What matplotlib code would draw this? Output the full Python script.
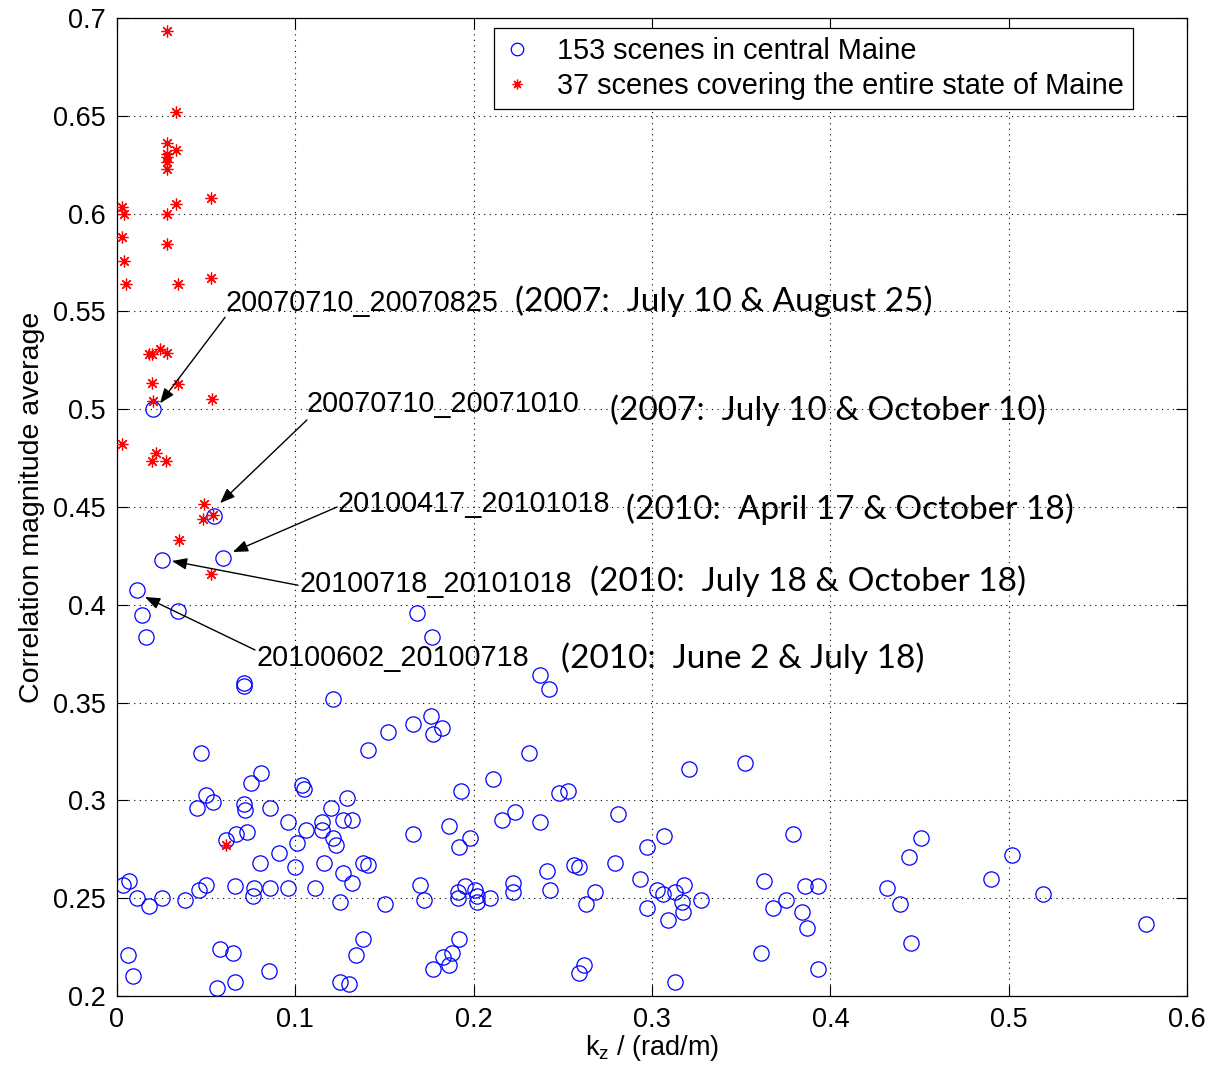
import matplotlib
matplotlib.use("Agg")
import matplotlib.pyplot as plt
from matplotlib.lines import Line2D

# 153 interferometric pairs in central Maine: vertical wavenumber vs. mean coherence
central_kz = [
    0.020, 0.0544, 0.0594, 0.025, 0.011, 0.014, 0.034, 0.016, 0.168, 0.1765,
    0.071, 0.0713, 0.121, 0.152, 0.141, 0.047, 0.081, 0.075, 0.104, 0.105,
    0.050, 0.129, 0.045, 0.054, 0.071, 0.072, 0.086, 0.120, 0.096, 0.106,
    0.115, 0.115, 0.127, 0.132, 0.121, 0.123, 0.073, 0.067, 0.061, 0.101,
    0.091, 0.080, 0.100, 0.116, 0.138, 0.141, 0.127, 0.132, 0.0067, 0.0034,
    0.050, 0.046, 0.066, 0.077, 0.076, 0.086, 0.096, 0.111, 0.011, 0.018,
    0.025, 0.038, 0.125, 0.150, 0.138, 0.134, 0.006, 0.009, 0.058, 0.065,
    0.085, 0.056, 0.066, 0.125, 0.130,
    0.237, 0.242, 0.166, 0.176, 0.182, 0.177, 0.231, 0.211, 0.193, 0.248,
    0.253, 0.223, 0.216, 0.237, 0.281, 0.166, 0.186, 0.198, 0.192, 0.307,
    0.297, 0.241, 0.256, 0.259, 0.279, 0.293, 0.170, 0.222, 0.243, 0.268,
    0.303, 0.306, 0.313, 0.191, 0.195, 0.191, 0.201, 0.202, 0.202, 0.209,
    0.222, 0.172, 0.263, 0.297, 0.309, 0.192, 0.188, 0.183, 0.186, 0.177,
    0.262, 0.259, 0.313,
    0.321, 0.352, 0.379, 0.363, 0.318, 0.317, 0.3275, 0.3175, 0.386, 0.393,
    0.375, 0.368, 0.384, 0.387, 0.361, 0.393, 0.451, 0.444, 0.432, 0.439,
    0.445, 0.502, 0.490, 0.519, 0.577,
]
central_coh = [
    0.500, 0.4456, 0.424, 0.423, 0.4077, 0.395, 0.3966, 0.3835, 0.396, 0.3834,
    0.360, 0.3585, 0.352, 0.335, 0.326, 0.324, 0.314, 0.309, 0.308, 0.306,
    0.303, 0.301, 0.296, 0.299, 0.298, 0.295, 0.296, 0.296, 0.289, 0.285,
    0.289, 0.285, 0.290, 0.290, 0.281, 0.277, 0.284, 0.283, 0.280, 0.278,
    0.273, 0.268, 0.266, 0.268, 0.268, 0.267, 0.263, 0.258, 0.259, 0.257,
    0.257, 0.254, 0.256, 0.255, 0.251, 0.255, 0.255, 0.255, 0.250, 0.246,
    0.250, 0.249, 0.248, 0.247, 0.229, 0.221, 0.221, 0.210, 0.224, 0.222,
    0.213, 0.204, 0.207, 0.207, 0.206,
    0.364, 0.357, 0.339, 0.343, 0.337, 0.334, 0.324, 0.311, 0.305, 0.304,
    0.305, 0.294, 0.290, 0.289, 0.293, 0.283, 0.287, 0.281, 0.276, 0.282,
    0.276, 0.264, 0.267, 0.266, 0.268, 0.260, 0.257, 0.258, 0.254, 0.253,
    0.254, 0.252, 0.253, 0.253, 0.256, 0.250, 0.254, 0.251, 0.248, 0.250,
    0.253, 0.249, 0.247, 0.245, 0.239, 0.229, 0.222, 0.220, 0.216, 0.214,
    0.216, 0.212, 0.207,
    0.316, 0.319, 0.283, 0.259, 0.257, 0.248, 0.249, 0.243, 0.256, 0.256,
    0.249, 0.245, 0.243, 0.235, 0.222, 0.214, 0.281, 0.271, 0.255, 0.247,
    0.227, 0.272, 0.260, 0.252, 0.237,
]

# 37 pairs covering the entire state
state_kz = [
    0.028, 0.033, 0.028, 0.033, 0.028, 0.028, 0.028, 0.028, 0.033,
    0.0527, 0.003, 0.004, 0.028, 0.003, 0.028, 0.004, 0.005, 0.034, 0.0527,
    0.018, 0.0195, 0.024, 0.028, 0.0195, 0.034, 0.020, 0.053, 0.0026, 0.0217,
    0.0195, 0.0277, 0.049, 0.054, 0.048, 0.035, 0.0527, 0.061,
]
state_coh = [
    0.6935, 0.652, 0.636, 0.6325, 0.6305, 0.6288, 0.6266, 0.6227, 0.605,
    0.608, 0.6035, 0.600, 0.5996, 0.588, 0.5846, 0.5757, 0.564, 0.5641, 0.567,
    0.528, 0.5282, 0.5307, 0.5286, 0.5132, 0.5129, 0.504, 0.505, 0.4824, 0.4776,
    0.4735, 0.4737, 0.4517, 0.446, 0.444, 0.4333, 0.416, 0.277,
]

legend_labels = ["153 scenes in central Maine",
                 "37 scenes covering the entire state of Maine"]

# Highlighted pairs: id, description, arrow head/tail, id and description anchors
pair_ids = ["20070710_20070825", "20070710_20071010", "20100417_20101018",
            "20100718_20101018", "20100602_20100718"]
pair_dates = ["(2007:  July 10 & August 25)", "(2007:  July 10 & October 10)",
              "(2010:  April 17 & October 18)", "(2010:  July 18 & October 18)",
              "(2010:  June 2 & July 18)"]
arrow_heads = [(0.0241, 0.503), (0.0578, 0.452), (0.065, 0.427),
               (0.0308, 0.4224), (0.0157, 0.404)]
arrow_tails = [(0.0606, 0.547), (0.1065, 0.4945), (0.1234, 0.450),
               (0.1015, 0.410), (0.0774, 0.3769)]
id_pos = [(0.0606, 0.5543), (0.1065, 0.5027), (0.1234, 0.4515),
          (0.1026, 0.4106), (0.078, 0.3728)]
date_pos = [(0.2232, 0.5553), (0.2765, 0.4996), (0.2854, 0.449),
            (0.2652, 0.4122), (0.249, 0.3728)]

xticks = [0, 0.1, 0.2, 0.3, 0.4, 0.5, 0.6]
xticklabels = ["0", "0.1", "0.2", "0.3", "0.4", "0.5", "0.6"]
yticks = [0.2, 0.25, 0.3, 0.35, 0.4, 0.45, 0.5, 0.55, 0.6, 0.65, 0.7]
yticklabels = ["0.2", "0.25", "0.3", "0.35", "0.4", "0.45", "0.5", "0.55",
               "0.6", "0.65", "0.7"]

plt.rcParams["font.family"] = ["Liberation Sans", "DejaVu Sans"]
plt.rcParams["mathtext.fontset"] = "custom"
plt.rcParams["mathtext.rm"] = "Liberation Sans"
plt.rcParams["mathtext.it"] = "Liberation Sans"

fig = plt.figure(figsize=(12.12, 10.65), dpi=100)
ax = fig.add_axes([117 / 1212, 1 - 996 / 1065, 1070 / 1212, 978 / 1065])

star = (8, 2, 0)
ax.plot(central_kz, central_coh, linestyle="none", marker="o", markersize=11,
        markerfacecolor="none", markeredgecolor="#0000ff", markeredgewidth=0.9,
        zorder=3)
ax.plot(state_kz, state_coh, linestyle="none", marker=star, markersize=8.5,
        markeredgecolor="#ff0000", markerfacecolor="#ff0000",
        markeredgewidth=0.9, zorder=3)

for pid, pdate, head, tail, ip, dp in zip(pair_ids, pair_dates, arrow_heads,
                                          arrow_tails, id_pos, date_pos):
    ax.annotate("", xy=head, xytext=tail,
                arrowprops=dict(arrowstyle="-|>,head_length=0.9,head_width=0.35",
                                color="black", lw=1.0, shrinkA=0, shrinkB=0),
                zorder=4)
    ax.text(ip[0], ip[1], pid, fontsize=20.7, ha="left", va="center",
            family=["Liberation Sans"], zorder=5)
    ax.text(dp[0], dp[1], pdate, fontsize=24, ha="left", va="center",
            family=["Lato", "DejaVu Sans"], zorder=5)

ax.set_xlim(0, 0.6)
ax.set_ylim(0.2, 0.7)
ax.set_xticks(xticks)
ax.set_xticklabels(xticklabels)
ax.set_yticks(yticks)
ax.set_yticklabels(yticklabels)
ax.tick_params(direction="in", top=True, right=True, length=8, width=0.8,
               labelsize=19.5, pad=8)
ax.grid(True, color="black", linestyle=(0, (1, 4)), linewidth=0.8)
for s in ax.spines.values():
    s.set_linewidth(0.9)

ax.set_xlabel("$k_z$ / (rad/m)", fontsize=19.5, labelpad=0)
ax.set_ylabel("Correlation magnitude average", fontsize=20.5, labelpad=6)

handles = [
    Line2D([], [], linestyle="none", marker="o", markersize=9,
           markerfacecolor="none", markeredgecolor="#0000ff",
           markeredgewidth=0.9),
    Line2D([], [], linestyle="none", marker=star, markersize=7,
           markeredgecolor="#ff0000", markeredgewidth=0.9),
]
leg = ax.legend(handles, legend_labels, loc="upper right",
                bbox_to_anchor=((1133 - 117) / 1070, (996 - 28) / 978),
                fontsize=20.8, frameon=True, fancybox=False, framealpha=1,
                edgecolor="black", borderpad=0.3, labelspacing=0.25,
                handletextpad=0.9, handlelength=1.0, borderaxespad=0)
leg.get_frame().set_linewidth(0.9)

fig.savefig("out.png", dpi=100)
